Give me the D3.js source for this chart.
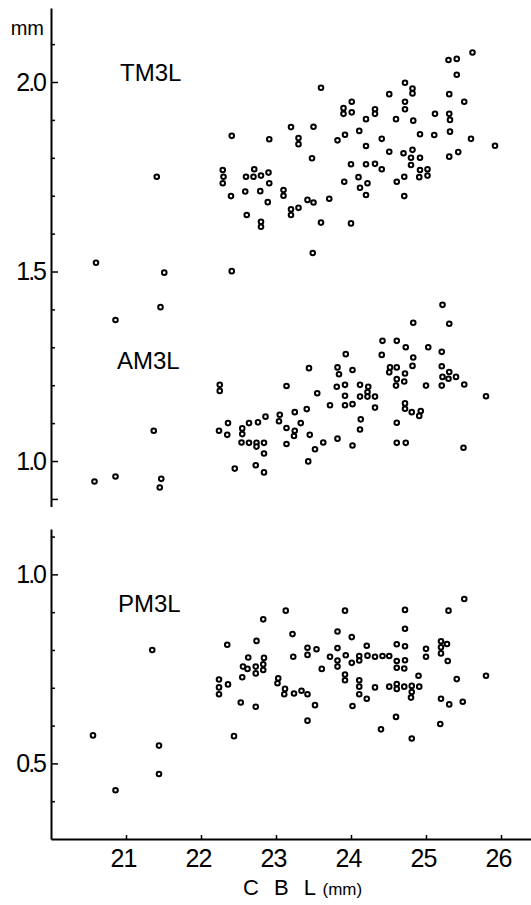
<!DOCTYPE html>
<html>
<head>
  <meta charset="utf-8">
  <title>TM3L / AM3L / PM3L vs CBL</title>
  <script src="https://d3js.org/d3.v7.min.js"></script>
  <style>
    body { margin: 0; background: #fff; }
    text { font-family: "Liberation Sans", Arial, sans-serif; fill: #000; }
    .tick text { font-family: "Liberation Sans", Arial, sans-serif; font-size: 25px; }
  </style>
</head>
<body>
  <div id="chart"></div>

  <script>
    // CBL (mm) vs. tooth measure (mm)
    var tm3l = [
      [22.41,1.858],[22.91,1.849],[23.20,1.881],[23.50,1.882],[23.30,1.852],[23.30,1.836],[23.60,1.985],[23.48,1.799],
      [22.29,1.768],[22.30,1.750],[22.29,1.733],[22.40,1.699],[22.60,1.750],[22.71,1.770],[22.70,1.750],[22.80,1.753],
      [22.90,1.761],[22.91,1.733],[22.59,1.711],[22.79,1.712],[22.89,1.683],[22.61,1.649],[22.80,1.631],[22.80,1.618],
      [23.10,1.715],[23.10,1.700],[23.20,1.664],[23.20,1.649],[23.30,1.668],[23.42,1.689],[23.50,1.682],[23.71,1.692],
      [23.60,1.629],[24.00,1.627],[23.90,1.931],[23.90,1.916],[24.01,1.948],[24.01,1.920],[24.20,1.902],[24.32,1.928],
      [24.32,1.916],[24.51,1.968],[24.11,1.871],[23.92,1.861],[23.82,1.846],[24.20,1.831],[24.41,1.850],[24.51,1.816],
      [24.00,1.783],[24.20,1.783],[24.32,1.784],[24.41,1.770],[23.91,1.737],[24.10,1.749],[24.12,1.721],[24.22,1.733],
      [24.20,1.702],[24.72,1.998],[24.82,1.983],[24.82,1.970],[24.72,1.948],[24.72,1.928],[24.60,1.902],[24.83,1.898],
      [24.92,1.862],[25.11,1.860],[25.12,1.916],[25.31,1.968],[25.31,1.916],[25.32,1.900],[25.32,1.869],[25.30,2.058],
      [25.41,2.061],[25.62,2.078],[25.41,2.019],[25.51,1.948],[25.60,1.850],[25.92,1.832],[25.43,1.815],[25.31,1.803],
      [24.70,1.812],[24.82,1.821],[24.80,1.800],[24.92,1.800],[24.80,1.781],[24.92,1.768],[25.02,1.770],[24.91,1.749],
      [25.02,1.753],[24.71,1.750],[24.61,1.737],[24.71,1.699],
      [21.41,1.750],[20.60,1.523],[21.51,1.497],[20.86,1.372],[21.46,1.406],[22.41,1.501],[23.49,1.549]
    ];

    var am3l = [
      [20.58,0.946],[20.86,0.959],[21.37,1.080],[21.47,0.953],[21.45,0.930],
      [22.25,1.201],[22.25,1.185],[22.24,1.080],[22.36,1.100],[22.35,1.069],[22.45,0.980],[22.55,1.086],[22.55,1.071],
      [22.54,1.049],[22.64,1.100],[22.64,1.048],[22.76,1.102],[22.74,1.048],[22.74,1.038],[22.84,1.048],[22.86,1.117],
      [22.84,1.020],[22.73,0.989],[22.84,0.970],[23.05,1.122],[23.04,1.105],[23.14,1.198],[23.14,1.087],[23.25,1.129],
      [23.25,1.080],[23.24,1.066],[23.14,1.045],[23.33,1.100],[23.41,1.137],[23.45,1.069],[23.44,1.245],[23.55,1.179],
      [23.43,0.999],[23.52,1.031],[23.63,1.049],[23.72,1.147],[23.81,1.196],[23.82,1.247],[23.84,1.229],[23.92,1.201],
      [23.92,1.172],[23.92,1.147],[23.93,1.282],[23.82,1.059],[24.02,1.240],[24.02,1.150],[24.02,1.041],[24.12,1.201],
      [24.12,1.170],[24.13,1.110],[24.12,1.083],[24.23,1.196],[24.22,1.182],[24.22,1.170],[24.32,1.170],[24.32,1.141],
      [24.42,1.317],[24.41,1.280],[24.52,1.247],[24.51,1.234],[24.61,1.317],[24.61,1.247],[24.61,1.216],[24.60,1.199],
      [24.73,1.300],[24.72,1.231],[24.71,1.210],[24.72,1.152],[24.72,1.138],[24.61,1.101],[24.61,1.048],[24.73,1.048],
      [24.83,1.365],[24.83,1.273],[24.82,1.251],[24.81,1.129],[24.93,1.132],[24.91,1.119],[25.03,1.300],[25.00,1.199],
      [25.22,1.412],[25.31,1.362],[25.21,1.288],[25.21,1.250],[25.31,1.235],[25.22,1.222],[25.30,1.217],[25.40,1.222],
      [25.21,1.199],[25.51,1.202],[25.80,1.171],[25.50,1.035]
    ];

    var pm3l = [
      [21.35,0.800],[25.51,0.935],[23.13,0.904],[23.92,0.904],[24.72,0.906],[25.30,0.904],[22.83,0.881],[23.22,0.842],
      [23.82,0.849],[24.01,0.834],[24.72,0.856],[22.35,0.814],[22.74,0.824],[23.42,0.806],[23.54,0.802],[23.42,0.787],
      [23.82,0.805],[24.21,0.811],[24.61,0.815],[24.72,0.810],[25.00,0.803],[25.20,0.823],[25.28,0.816],[25.20,0.807],
      [25.20,0.791],[25.29,0.771],[25.00,0.782],[22.63,0.780],[22.84,0.779],[23.23,0.782],[23.72,0.782],[23.93,0.786],
      [23.82,0.772],[24.01,0.766],[24.11,0.784],[24.11,0.772],[24.22,0.785],[24.32,0.782],[24.42,0.784],[24.51,0.784],
      [24.61,0.771],[24.72,0.773],[24.61,0.753],[24.71,0.751],[22.56,0.756],[22.62,0.750],[22.73,0.756],[22.83,0.762],
      [22.83,0.747],[22.73,0.738],[22.55,0.728],[23.61,0.750],[23.82,0.756],[23.92,0.735],[23.92,0.720],[24.11,0.720],
      [24.11,0.703],[24.11,0.683],[24.21,0.671],[24.32,0.701],[24.51,0.703],[24.61,0.710],[24.61,0.697],[24.71,0.703],
      [24.81,0.705],[24.91,0.703],[24.81,0.689],[24.80,0.674],[24.90,0.732],[25.41,0.723],[25.80,0.732],[25.20,0.671],
      [25.31,0.656],[25.49,0.663],[22.24,0.722],[22.24,0.701],[22.24,0.683],[22.36,0.709],[22.53,0.661],[22.73,0.650],
      [23.03,0.725],[23.02,0.712],[23.12,0.697],[23.11,0.683],[23.24,0.685],[23.34,0.692],[23.42,0.683],[23.52,0.654],
      [23.42,0.613],[24.02,0.652],[24.60,0.623],[24.40,0.590],[25.19,0.604],[20.56,0.574],[20.86,0.429],[21.44,0.547],
      [21.44,0.472],[22.44,0.572],[24.81,0.566]
    ];

    var xTicks = [21, 22, 23, 24, 25, 26];
    var upperTicks = [0.9, 1.0, 1.1, 1.2, 1.3, 1.4, 1.5, 1.6, 1.7, 1.8, 1.9, 2.0, 2.1];
    var upperLabels = [1.0, 1.5, 2.0];
    var upperLong = [0.9, 1.0, 1.5, 2.0];
    var lowerTicks = [0.4, 0.5, 0.6, 0.7, 0.8, 0.9, 1.0, 1.1];
    var lowerLabels = [0.5, 1.0];
    var lowerLong = [0.5, 1.0];

    var width = 531, height = 905;

    var svg = d3.select("#chart").append("svg")
      .attr("width", width)
      .attr("height", height);

    var x = d3.scaleLinear().domain([20, 26.5]).range([51, 538.5]);
    var yUp = d3.scaleLinear().domain([0.88, 2.195]).range([506.5, 8.1]);
    var yLow = d3.scaleLinear().domain([0.3, 1.12]).range([839, 529]);

    var fmt = d3.format(".1f");

    function drawYAxis(scale, ticks, labels, longs) {
      var g = svg.append("g")
        .attr("transform", "translate(51,0)")
        .call(d3.axisLeft(scale)
          .tickValues(ticks)
          .tickSize(-4)
          .tickSizeOuter(0)
          .tickPadding(6)
          .tickFormat(function(d) { return labels.indexOf(d) >= 0 ? fmt(d) : ""; }));
      g.select(".domain").attr("stroke-width", 2);
      g.selectAll(".tick line")
        .attr("stroke-width", 1.5)
        .attr("x2", function(d) { return longs.indexOf(d) >= 0 ? 7 : 4; });
      g.selectAll(".tick text")
        .attr("font-size", 24)
        .attr("letter-spacing", -2);
    }

    drawYAxis(yUp, upperTicks, upperLabels, upperLong);
    drawYAxis(yLow, lowerTicks, lowerLabels, lowerLong);

    // x axis along the bottom of the lower panel
    var gx = svg.append("g")
      .attr("transform", "translate(0,839)")
      .call(d3.axisBottom(x)
        .tickValues(xTicks)
        .tickSize(-4)
        .tickSizeOuter(0)
        .tickPadding(10)
        .tickFormat(d3.format("d")));
    gx.select(".domain").attr("stroke-width", 2);
    gx.selectAll(".tick line").attr("stroke-width", 1.5);
    gx.selectAll(".tick text").attr("dx", -3).attr("letter-spacing", -1);

    function drawDots(data, y) {
      svg.append("g").selectAll("circle")
        .data(data)
        .enter()
        .append("circle")
        .attr("cx", function(d) { return x(d[0]); })
        .attr("cy", function(d) { return y(d[1]); })
        .attr("r", 2.3)
        .attr("fill", "#fff")
        .attr("stroke", "#000")
        .attr("stroke-width", 2);
    }

    drawDots(tm3l, yUp);
    drawDots(am3l, yUp);
    drawDots(pm3l, yLow);

    // panel labels
    svg.append("text").attr("x", 120).attr("y", 81).attr("font-size", 24).text("TM3L");
    svg.append("text").attr("x", 117).attr("y", 369).attr("font-size", 24).text("AM3L");
    svg.append("text").attr("x", 118).attr("y", 612).attr("font-size", 24).text("PM3L");

    // unit on the y axis
    svg.append("text")
      .attr("x", 44).attr("y", 35)
      .attr("text-anchor", "end")
      .attr("font-size", 20)
      .text("mm");

    // x axis title
    var title = svg.append("text")
      .attr("x", 243).attr("y", 895)
      .attr("font-size", 22);
    title.append("tspan")
      .attr("letter-spacing", 4.5)
      .attr("xml:space", "preserve")
      .text("C B L");
    title.append("tspan")
      .attr("dx", 2)
      .attr("font-size", 17)
      .text("(mm)");
  </script>
</body>
</html>
